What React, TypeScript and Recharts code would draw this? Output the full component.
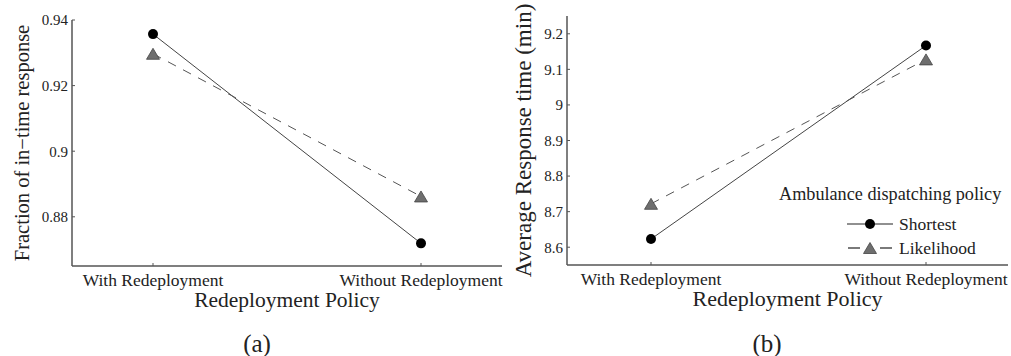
import React from 'react'
import { LineChart, Line, XAxis, YAxis, Legend } from 'recharts'

const FONT = '"Liberation Serif", "Times New Roman", serif'

const policies = ['With Redeployment', 'Without Redeployment']
const inTimeShortest = [0.9357, 0.8719]
const inTimeLikelihood = [0.9297, 0.8862]
const responseShortest = [8.623, 9.167]
const responseLikelihood = [8.722, 9.128]
const inTimeTicks = [0.88, 0.9, 0.92, 0.94]
const responseTicks = [8.6, 8.7, 8.8, 8.9, 9, 9.1, 9.2]
const seriesKeys = ['shortest', 'likelihood']
const seriesNames: Record<string, string> = { shortest: 'Shortest', likelihood: 'Likelihood' }

const dataA = policies.map((p, i) => ({ policy: p, shortest: inTimeShortest[i], likelihood: inTimeLikelihood[i] }))
const dataB = policies.map((p, i) => ({ policy: p, shortest: responseShortest[i], likelihood: responseLikelihood[i] }))

const numTick = { fill: '#222', fontSize: 15, fontFamily: FONT }
const catTick = { fill: '#222', fontSize: 17.5, fontFamily: FONT }
const axisLine = { stroke: '#555', strokeWidth: 1.5 }
const tickLine = { stroke: '#555' }

const Triangle = (props: any) => {
  const { cx, cy } = props
  if (cx == null || cy == null) return null
  return (
    <path
      d={`M${cx},${cy - 5.5} L${cx + 6.5},${cy + 5.5} L${cx - 6.5},${cy + 5.5} Z`}
      fill="#6e6e6e"
      stroke="#444"
      strokeWidth={0.8}
    />
  )
}

const legendContent = ({ payload }: any) => {
  const items = [...(payload || [])].sort(
    (a: any, b: any) => seriesKeys.indexOf(a.dataKey) - seriesKeys.indexOf(b.dataKey)
  )
  return (
    <div style={{ fontFamily: FONT, color: '#222' }}>
      <div style={{ fontSize: 18.2, lineHeight: '20px', whiteSpace: 'nowrap' }}>Ambulance dispatching policy</div>
      <div style={{ height: 8 }} />
      {items.map((entry: any) => {
        const dashed = entry.dataKey === 'likelihood'
        return (
          <div key={entry.dataKey} style={{ display: 'flex', alignItems: 'center', height: 24, marginLeft: 68 }}>
            <svg width={46} height={14}>
              {dashed ? (
                <>
                  <line x1={1} x2={13} y1={7} y2={7} stroke="#222" strokeWidth={1.2} />
                  <line x1={33} x2={45} y1={7} y2={7} stroke="#222" strokeWidth={1.2} />
                  <Triangle cx={23} cy={7} />
                </>
              ) : (
                <>
                  <line x1={0} x2={46} y1={7} y2={7} stroke="#222" strokeWidth={1.2} />
                  <circle cx={23} cy={7} r={5} fill="#000" />
                </>
              )}
            </svg>
            <span style={{ marginLeft: 6, fontSize: 17.5, lineHeight: '20px' }}>{entry.value}</span>
          </div>
        )
      })}
    </div>
  )
}

const lines = () => [
  <Line
    key="shortest"
    dataKey="shortest"
    name={seriesNames.shortest}
    stroke="#444"
    strokeWidth={1}
    dot={{ r: 5, fill: '#000', stroke: '#000', strokeWidth: 0 }}
    activeDot={false}
    isAnimationActive={false}
  />,
  <Line
    key="likelihood"
    dataKey="likelihood"
    name={seriesNames.likelihood}
    stroke="#555"
    strokeWidth={1}
    strokeDasharray="9 8"
    dot={<Triangle />}
    activeDot={false}
    isAnimationActive={false}
  />,
]

const caption = { position: 'absolute' as const, top: 330, width: 100, textAlign: 'center' as const, fontSize: 25, lineHeight: '28px', color: '#222' }

export default function App() {
  return (
    <div style={{ position: 'absolute', left: 0, top: 0, width: 1011, height: 356, background: '#fff', fontFamily: FONT }}>
      <div style={{ position: 'absolute', left: 0, top: 0 }}>
        <LineChart width={510} height={356} data={dataA} margin={{ top: 20, right: 8, left: 0, bottom: 48 }}>
          <XAxis
            dataKey="policy"
            height={42}
            padding={{ left: 81, right: 81 }}
            tick={catTick}
            axisLine={axisLine}
            tickLine={tickLine}
            tickSize={-3}
            tickMargin={11}
            interval={0}
            label={{ value: 'Redeployment Policy', position: 'insideBottom', offset: 1, style: { fontSize: 21.5, fill: '#222', fontFamily: FONT } }}
          />
          <YAxis
            width={72}
            type="number"
            domain={[0.865, 0.94]}
            allowDataOverflow
            ticks={inTimeTicks}
            tick={numTick}
            axisLine={axisLine}
            tickLine={tickLine}
            tickSize={-3}
            tickMargin={7}
            label={{ value: 'Fraction of in\u2212time response', angle: -90, position: 'insideLeft', offset: 22, style: { textAnchor: 'middle', fontSize: 20.5, fill: '#222', fontFamily: FONT } }}
          />
          {lines()}
        </LineChart>
      </div>
      <div style={{ position: 'absolute', left: 505, top: 0 }}>
        <LineChart width={506} height={356} data={dataB} margin={{ top: 16, right: 3, left: 0, bottom: 49 }}>
          <XAxis
            dataKey="policy"
            height={42}
            padding={{ left: 84, right: 82 }}
            tick={catTick}
            axisLine={axisLine}
            tickLine={tickLine}
            tickSize={-3}
            tickMargin={11}
            interval={0}
            label={{ value: 'Redeployment Policy', position: 'insideBottom', offset: 1, style: { fontSize: 22, fill: '#222', fontFamily: FONT } }}
          />
          <YAxis
            width={62}
            type="number"
            domain={[8.55, 9.25]}
            allowDataOverflow
            ticks={responseTicks}
            tick={numTick}
            axisLine={axisLine}
            tickLine={tickLine}
            tickSize={-3}
            tickMargin={7}
            label={{ value: 'Average Response time (min)', angle: -90, position: 'insideLeft', offset: 18, style: { textAnchor: 'middle', fontSize: 23, fill: '#222', fontFamily: FONT } }}
          />
          {lines()}
          <Legend
            layout="horizontal"
            verticalAlign="middle"
            align="center"
            content={legendContent}
            wrapperStyle={{ position: 'absolute', left: 274, top: 184, width: 232 }}
          />
        </LineChart>
      </div>
      <div style={{ ...caption, left: 207 }}>(a)</div>
      <div style={{ ...caption, left: 717 }}>(b)</div>
    </div>
  )
}
